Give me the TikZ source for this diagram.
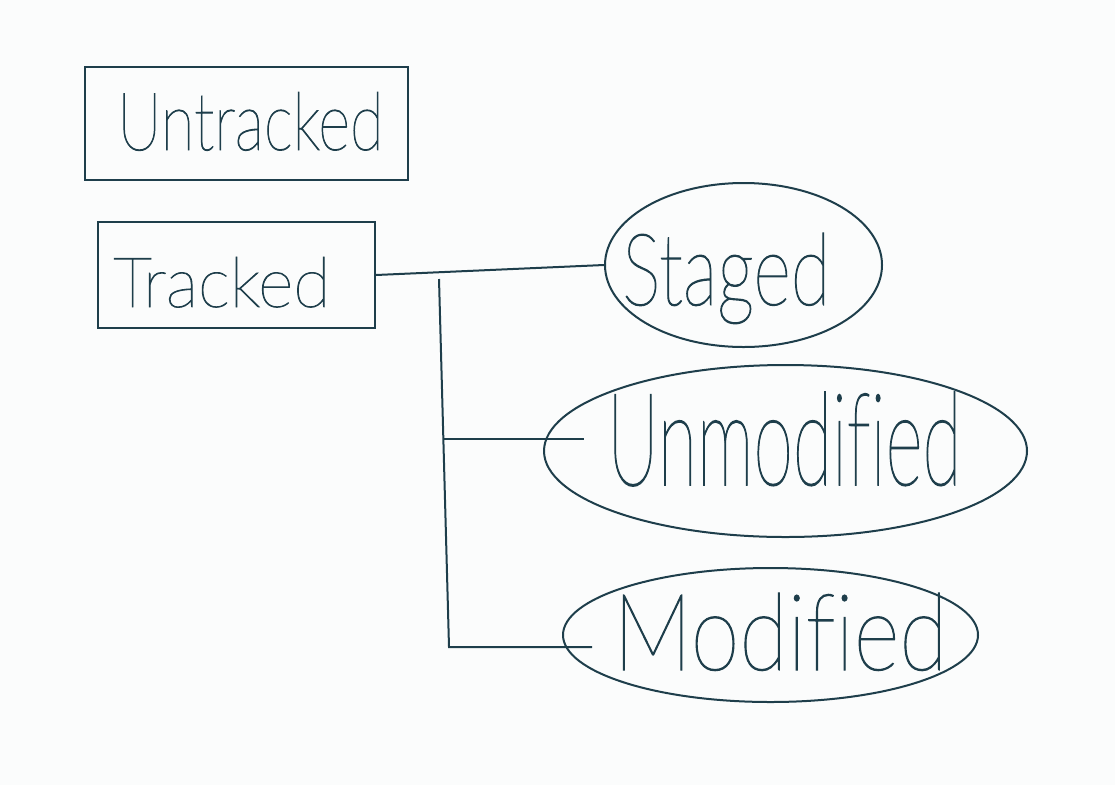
\documentclass[tikz,border=0pt]{standalone}
\usepackage{fontspec}
\usepackage{graphicx}
\usetikzlibrary{shapes.geometric}
\newfontfamily\hand[Ligatures=NoCommon,FakeBold=1.2]{Lato Hairline}
\definecolor{ink}{HTML}{1E3E4B}
\definecolor{bg}{HTML}{FBFCFC}
\tikzset{
  box/.style={draw=ink, line width=2pt, rectangle, inner sep=0pt},
  oval/.style={draw=ink, line width=2pt, ellipse, inner sep=0pt},
  lbl/.style={anchor=base west, inner sep=0pt, text=ink, font=\hand},
  wire/.style={draw=ink, line width=2pt}
}
\begin{document}
\begin{tikzpicture}[x=1pt,y=-1pt]
\fill[bg] (0,0) rectangle (1115,785);
\useasboundingbox (0,0) rectangle (1115,785);
% boxes
\node[box, minimum width=323pt, minimum height=113pt] (untr) at (246.5,123.5) {};
\node[box, minimum width=277pt, minimum height=106pt] (tr) at (236.5,275) {};
% ellipses
\node[oval, minimum width=277pt, minimum height=164pt] (st) at (743.5,265) {};
\node[oval, minimum width=483pt, minimum height=172pt] (um) at (785.5,451) {};
\node[oval, minimum width=415pt, minimum height=134pt] (md) at (770.5,635) {};
% labels
\node[lbl] (tUntr) at (117,150) {\resizebox{266pt}{58pt}{Untracked}};
\node[lbl] (tTr) at (113,307) {\resizebox{217pt}{50pt}{Tracked}};
\node[lbl] (tSt) at (622,305) {\resizebox{208pt}{72pt}{Staged}};
\node[lbl] (tUm) at (607,485) {\resizebox{354pt}{93pt}{Unmodified}};
\node[lbl] (tMd) at (613,670) {\resizebox{334pt}{77pt}{Modified}};
% connectors
\coordinate (v1) at (439,279);
\coordinate (v2) at (449,647);
\coordinate (b1) at (443,439);
\coordinate (e1) at (584,439);
\coordinate (e2) at (592,647);
\draw[wire] (tr.east) -- (st.west);
\draw[wire] (v1) -- (v2) -- (e2);
\draw[wire] (b1) -- (e1);
\end{tikzpicture}
\end{document}
